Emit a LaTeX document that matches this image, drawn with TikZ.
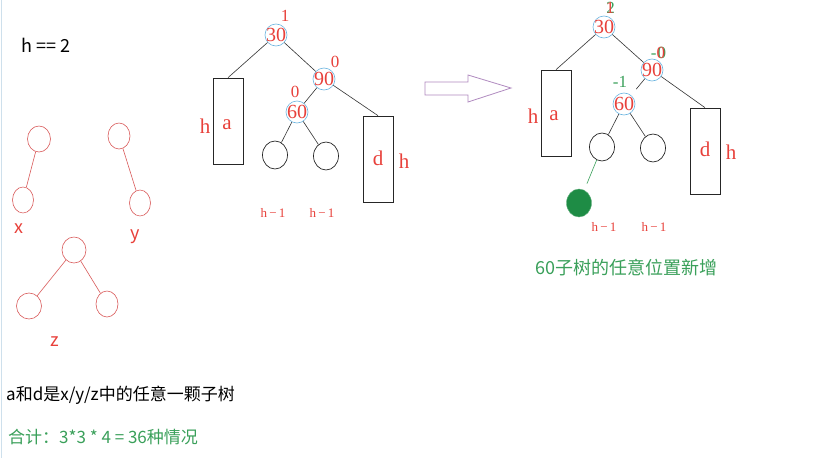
\documentclass[tikz,border=0pt]{standalone}
\usepackage{fontspec}
\setmainfont{Liberation Serif}
\newfontfamily\cjk{Noto Sans CJK SC}
\usetikzlibrary{shapes.geometric}
\definecolor{tred}{HTML}{E8403A}
\definecolor{tgreen}{HTML}{3AA05A}
\definecolor{dgreen}{HTML}{1E8C45}
\definecolor{cblue}{HTML}{6AB4E0}
\definecolor{pred}{HTML}{D95A5A}
\definecolor{apurple}{HTML}{B08AC0}
\tikzset{
  numnode/.style={circle, draw=cblue, line width=0.6pt, minimum size=22pt, inner sep=0pt,
    label={[text=tred, font=\fontsize{20}{20}\selectfont, inner sep=0pt]center:#1}},
  bf/.style={text=tred, font=\fontsize{17}{17}\selectfont, inner sep=0pt},
  gf/.style={text=tgreen, font=\fontsize{17}{17}\selectfont, inner sep=0pt},
  boxnode/.style={draw=black!85, line width=0.7pt, minimum width=30pt, inner sep=0pt},
  big/.style={text=tred, font=\fontsize{21}{21}\selectfont, inner sep=0pt},
  small/.style={text=tred, font=\fontsize{13}{13}\selectfont, inner sep=0pt},
  kid/.style={ellipse, draw=black!85, line width=0.7pt, minimum width=25pt, minimum height=28pt, inner sep=0pt},
  pnode/.style={ellipse, draw=pred, line width=0.6pt, minimum width=23pt, minimum height=26pt, inner sep=0pt},
  edge/.style={draw=black!80, line width=0.6pt},
  pedge/.style={draw=pred, line width=0.6pt},
  sanslab/.style={text=tred, font=\cjk\fontsize{18}{18}\selectfont, inner sep=0pt},
}
\begin{document}
\begin{tikzpicture}[x=1pt, y=-1pt]
\useasboundingbox[fill=white] (0,0) rectangle (831,458);
\draw[color=black!15!cblue!30, line width=1pt] (1,0) -- (1,458);

% header
\node[anchor=west, inner sep=0pt, font=\cjk\fontsize{18}{18}\selectfont] (h2) at (21,45) {h == 2};

% small trees
\node[pnode] (x1) at (39,139) {};
\node[pnode, minimum width=21pt] (x2) at (23,200) {};
\draw[pedge] (x1) -- (x2);
\node[sanslab] (xl) at (19,229) {x};
\node[pnode, minimum width=22pt] (y1) at (119,136) {};
\node[pnode, minimum width=21pt] (y2) at (140,203) {};
\draw[pedge] (y1) -- (y2);
\node[sanslab] (yl) at (135,237) {y};
\node[pnode, minimum width=24pt] (z1) at (74,250) {};
\node[pnode, minimum width=25pt] (z2) at (29,306) {};
\node[pnode, minimum width=22pt] (z3) at (107,304) {};
\draw[pedge] (z1) -- (z2);
\draw[pedge] (z1) -- (z3);
\node[sanslab] (zl) at (55,342) {z};

% bottom texts
\node[anchor=west, inner sep=0pt, font=\cjk\fontsize{17}{17}\selectfont] (t1) at (6,395) {a和d是x/y/z中的任意一颗子树};
\node[anchor=west, inner sep=0pt, text=tgreen, font=\cjk\fontsize{17}{17}\selectfont] (t2) at (8,437) {合计：3*3 * 4 = 36种情况};

% left AVL tree
\node[numnode=30] (a30) at (276,35) {};
\node[numnode=90] (a90) at (324,79) {};
\node[numnode=60] (a60) at (297,112) {};
\node[bf] (ab30) at (285,16) {1};
\node[bf] (ab90) at (335,62) {0};
\node[bf] (ab60) at (295,92) {0};
\node[boxnode, minimum height=86pt] (aa) at (228,121) {};
\node[boxnode, minimum height=86pt] (ad) at (378,159) {};
\node[big] (aah) at (205,126) {h};
\node[big] (aaa) at (227,125) {a};
\node[big] (add) at (378,158) {d};
\node[big] (adh) at (404,161) {h};
\node[kid] (ak1) at (275,155) {};
\node[kid] (ak2) at (326,156) {};
\node[small] (ah1) at (273,213) {h\,−\,1};
\node[small] (ah2) at (322,213) {h\,−\,1};
\draw[edge] (a30) -- (aa.north);
\draw[edge] (a30) -- (a90);
\draw[edge] (a90) -- (a60);
\draw[edge] (a90) -- (ad.north);
\draw[edge] (a60) -- (ak1);
\draw[edge] (a60) -- (ak2);

% arrow
\draw[apurple, line width=0.8pt] (425,82) -- (468,82) -- (468,75) -- (511,88) -- (468,102) -- (468,95) -- (425,95) -- cycle;

% right AVL tree
\node[numnode=30] (b30) at (604,27) {};
\node[numnode=90] (b90) at (652,70) {};
\node[numnode=60] (b60) at (624,104) {};
\node[gf] (bb30) at (610,8) {\rlap{\kern0.5pt\textcolor{tgreen}{2}}\textcolor{tred}{1}};
\node[gf] (bb90) at (658,53) {-\rlap{\kern1pt\textcolor{tgreen}{0}}\textcolor{tred}{0}};
\node[gf] (bb60) at (620,82) {-1};
\node[boxnode, minimum height=86pt] (ba) at (556,113) {};
\node[boxnode, minimum height=86pt] (bd) at (705,151) {};
\node[big] (bah) at (533,116) {h};
\node[big] (baa) at (554,116) {a};
\node[big] (bdd) at (705,149) {d};
\node[big] (bdh) at (731,152) {h};
\node[kid] (bk1) at (602,147) {};
\node[kid] (bk2) at (653,148) {};
\node[ellipse, fill=dgreen, draw=dgreen!70, minimum width=25pt, minimum height=28pt, inner sep=0pt] (bnew) at (579,203) {};
\node[small] (bh1) at (604,227) {h\,−\,1};
\node[small] (bh2) at (654,227) {h\,−\,1};
\node[anchor=west, inner sep=0pt, text=tgreen, font=\cjk\fontsize{18}{18}\selectfont] (bt) at (535,268) {60子树的任意位置新增};
\draw[edge] (b30) -- (ba.north);
\draw[edge] (b30) -- (b90);
\draw[edge, shorten >=8pt] (b90) -- (b60);
\draw[edge] (b90) -- (bd.north);
\draw[edge] (b60) -- (bk1);
\draw[edge] (b60) -- (bk2);
\draw[draw=tgreen, line width=0.6pt, shorten >=7pt] (bk1) -- (bnew);
\end{tikzpicture}
\end{document}
